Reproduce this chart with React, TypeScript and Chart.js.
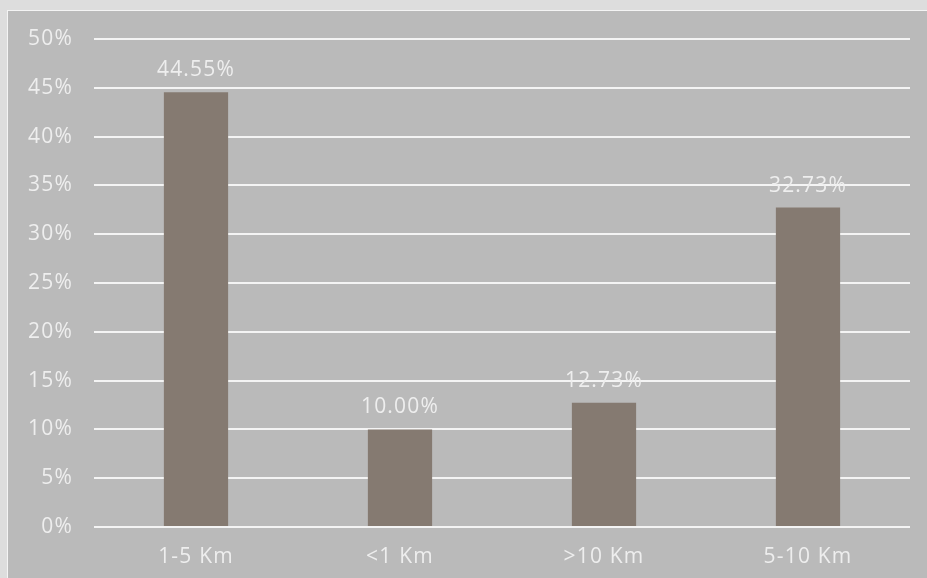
import React, { useEffect, useRef } from "react";
import { Chart, registerables } from "chart.js";

Chart.register(...registerables);

const categories = ["1-5 Km", "<1 Km", ">10 Km", "5-10 Km"];
const values = [44.55, 10.0, 12.73, 32.73];
const yTicks = [0, 5, 10, 15, 20, 25, 30, 35, 40, 45, 50];

const FONT = "'Open Sans', sans-serif";
const FSIZE = 21;
const TEXT = "#eeeeee";
const SPACING = "1.2px";

const spacingPlugin = {
  id: "spacing",
  beforeLayout(chart: any) {
    chart.ctx.letterSpacing = SPACING;
  },
  beforeDraw(chart: any) {
    chart.ctx.letterSpacing = SPACING;
  },
};

const labelPlugin = {
  id: "barLabels",
  afterDatasetsDraw(chart: any) {
    const ctx = chart.ctx;
    const meta = chart.getDatasetMeta(0);
    ctx.save();
    ctx.letterSpacing = SPACING;
    ctx.font = `${FSIZE}px ${FONT}`;
    ctx.fillStyle = TEXT;
    ctx.textAlign = "center";
    ctx.textBaseline = "middle";
    meta.data.forEach((bar: any, i: number) => {
      ctx.fillText(values[i].toFixed(2) + "%", bar.x, bar.y - 22);
    });
    ctx.restore();
  },
};

export default function App() {
  const ref = useRef<HTMLCanvasElement>(null);
  useEffect(() => {
    document.body.style.background = "#dddddd";
    const chart = new Chart(ref.current!, {
      type: "bar",
      data: {
        labels: categories,
        datasets: [
          {
            data: values,
            backgroundColor: "#857a71",
            categoryPercentage: 1,
            barPercentage: 0.315,
          },
        ],
      },
      options: {
        animation: false,
        responsive: false,
        maintainAspectRatio: false,
        layout: { padding: { top: 28, right: 17, left: 0, bottom: 0 } },
        plugins: { legend: { display: false }, tooltip: { enabled: false } },
        scales: {
          x: {
            grid: { display: false },
            border: { display: false },
            ticks: { color: TEXT, font: { family: FONT, size: FSIZE }, padding: 9 },
            afterFit(scale: any) {
              scale.height = 51;
              scale.paddingLeft = 0;
              scale.paddingRight = 0;
            },
          },
          y: {
            min: 0,
            max: 50,
            afterBuildTicks(scale: any) {
              scale.ticks = yTicks.map((v) => ({ value: v }));
            },
            grid: { color: "#f4f4f4", lineWidth: 2, drawTicks: false },
            border: { display: false },
            ticks: {
              color: TEXT,
              font: { family: FONT, size: FSIZE },
              padding: 21,
              callback: (v: any) => v + "%",
            },
            afterFit(scale: any) {
              scale.width = 86;
              scale.paddingTop = 0;
              scale.paddingBottom = 0;
            },
          },
        },
      },
      plugins: [spacingPlugin, labelPlugin],
    });
    return () => chart.destroy();
  }, []);
  return (
    <div
      style={{
        position: "absolute",
        left: 7,
        top: 10,
        width: 920,
        height: 568,
        borderTop: "1px solid #f4f4f4",
        borderLeft: "1px solid #f4f4f4",
        background: "#bababa",
        overflow: "hidden",
      }}
    >
      <canvas ref={ref} width={919} height={567} style={{ display: "block" }} />
    </div>
  );
}
